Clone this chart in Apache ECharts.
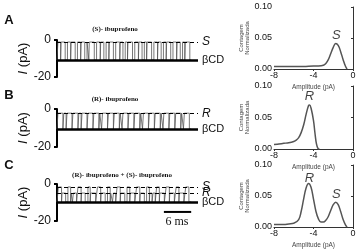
<!DOCTYPE html>
<html>
<head>
<meta charset="utf-8">
<script src="https://cdn.jsdelivr.net/npm/echarts@6/dist/echarts.min.js"></script>
<style>
html,body{margin:0;padding:0;background:#fff;}
#chart{width:360px;height:252px;}
</style>
</head>
<body>
<div id="chart"></div>
<script>
// --- traces (ms, pA) ---
const traceEnd = 29.5;
const openA = [[0.2,0.8],[0.9,1.8],[2.3,3.0],[3.1,4.0],[4.5,5.2],[5.3,6.1],[6.6,7.0],[7.1,8.2],
  [8.7,9.5],[9.6,10.3],[10.8,11.4],[11.5,12.4],[12.9,13.8],[13.9,14.5],[15.0,15.5],[15.6,16.6],
  [17.1,17.9],[18.0,18.7],[19.2,19.7],[19.8,20.8],[21.3,22.1],[22.2,22.9],[23.4,24.0],[24.1,25.0],
  [25.5,26.3],[26.4,27.1],[27.6,28.1],[28.2,29.2]];
const levelA = [-1.1, -10.8];   // aberto, fechado
const openB = [[0.2,1.3],[1.5,2.0],[2.2,3.3],[3.5,4.6],[4.8,5.3],[5.5,6.6],[6.8,7.9],[8.1,9.2],
  [9.4,9.8],[10.0,11.1],[11.3,12.4],[12.6,13.7],[13.9,14.3],[14.5,15.6],[15.8,16.9],[17.1,18.2],
  [18.4,18.8],[19.0,20.1],[20.3,21.4],[21.6,22.7],[22.9,23.3],[23.5,24.6],[24.8,25.9],[26.1,27.2],
  [27.4,27.8],[28.0,29.1]];
const levelB = [-2.2, -10.5];
const openC_S = [[0.3,1.0],[2.4,3.0],[4.6,5.3],[6.8,7.3],[8.9,9.6],[11.1,11.7],[13.2,13.9],[15.4,16.0],
  [17.5,18.2],[19.7,20.3],[21.9,22.5],[24.0,24.7],[26.2,26.8],[28.3,29.0]];
const openC_R = [[1.1,1.9],[3.1,3.4],[3.6,4.3],[5.4,6.2],[7.4,8.5],[9.7,10.6],[11.8,12.2],[12.4,12.9],
  [14.0,14.9],[16.1,17.1],[18.3,19.2],[20.4,20.9],[21.1,21.6],[22.6,23.6],[24.8,25.8],[26.9,27.9]];
const levelC = [-1.6, -4.9, -9.7]; // S, R, fechado
const scaleBar = [23.5, 29.5];     // 6 ms

// --- histogramas ---
const histA_x = [-8,-7,-6,-5,-4,-3.5,-3,-2.75,-2.5,-2.25,-2,-1.75,-1.5,-1.25,-1,-0.75,-0.6];
const histA_y = [0.004,0.004,0.004,0.004,0.005,0.005,0.006,0.009,0.015,0.025,0.035,0.041,0.038,0.028,0.015,0.004,0];
const histB_x = [-8,-7.5,-7,-6.5,-6,-5.75,-5.5,-5.25,-5,-4.75,-4.5,-4.4,-4.25,-4,-3.85,-3.7,-3.55,-3.4];
const histB_y = [0.007,0.008,0.009,0.010,0.012,0.014,0.018,0.026,0.038,0.055,0.069,0.070,0.065,0.045,0.025,0.008,0.001,0];
const histC_x = [-8,-7,-6.5,-6,-5.5,-5.25,-5,-4.75,-4.5,-4.25,-4,-3.75,-3.5,-3.25,-3,-2.75,-2.5,-2.25,-2,-1.75,-1.5,-1.25,-1,-0.75,-0.6];
const histC_y = [0.004,0.004,0.005,0.006,0.012,0.025,0.045,0.063,0.070,0.064,0.045,0.025,0.013,0.008,0.008,0.011,0.017,0.027,0.036,0.040,0.036,0.025,0.012,0.003,0];
const peaksA = [['S', -1.7, 0.055]];
const peaksB = [['R', -4.4, 0.084]];
const peaksC = [['R', -4.4, 0.079], ['S', -1.7, 0.052]];

function stepTrace(events, base){
  // events: [start, end, level]
  const pts = [[0, base]];
  events.sort((a,b)=>a[0]-b[0]).forEach(e=>{
    pts.push([e[0], base],[e[0], e[2]],[e[1], e[2]],[e[1], base]);
  });
  pts.push([traceEnd, base]);
  return pts;
}
const traceA = stepTrace(openA.map(o=>[o[0],o[1],levelA[0]]), levelA[1]);
const traceB = stepTrace(openB.map(o=>[o[0],o[1],levelB[0]]), levelB[1]);
const traceC = stepTrace(openC_S.map(o=>[o[0],o[1],levelC[0]]).concat(openC_R.map(o=>[o[0],o[1],levelC[1]])), levelC[2]);

const chart = echarts.init(document.getElementById('chart'));

const traceGrids = [{left:57,top:40,width:141,height:37},{left:57,top:109,width:141,height:38},{left:57,top:184,width:141,height:37}];
const histGrids = [{left:274,top:7,width:79,height:62},{left:274,top:86,width:79,height:63},{left:274,top:165,width:79,height:62}];

function traceX(i){
  return {gridIndex:i,type:'value',min:0,max:31,show:false};
}
function traceY(i){
  return {
    gridIndex:i,type:'value',min:-20,max:0,interval:20,
    name:'{i|I} (pA)',nameLocation:'middle',nameGap:26,nameRotate:90,
    nameTextStyle:{fontSize:13,color:'#111',fontFamily:'Arial',rich:{i:{fontStyle:'italic',fontSize:13,fontFamily:'Arial',color:'#111'}}},
    axisLine:{show:true,lineStyle:{color:'#000',width:2}},
    axisTick:{show:true,length:3,lineStyle:{color:'#000',width:2}},
    axisLabel:{fontSize:12,color:'#111',margin:6,fontFamily:'Arial'},
    splitLine:{show:false}
  };
}
function histX(i){
  return {
    gridIndex:i+3,type:'value',min:-8,max:0,interval:4,
    name:'Amplitude (pA)',nameLocation:'middle',nameGap:15,
    nameTextStyle:{fontSize:6.5,color:'#444',fontFamily:'Arial'},
    axisLine:{show:true,onZero:false,lineStyle:{color:'#333',width:1}},
    axisTick:{show:true,length:2,lineStyle:{color:'#333'}},
    axisLabel:{fontSize:9,color:'#111',margin:2,fontFamily:'Arial'},
    splitLine:{show:false}
  };
}
function histY(i){
  return {
    gridIndex:i+3,type:'value',min:0,max:0.1,interval:0.05,
    name:'Contagem\nNormalizada',nameLocation:'middle',nameGap:22,nameRotate:90,
    nameTextStyle:{fontSize:6,color:'#444',fontFamily:'Arial',lineHeight:6},
    axisLine:{show:true,lineStyle:{color:'#333',width:1}},
    axisTick:{show:true,length:2,lineStyle:{color:'#333'}},
    axisLabel:{fontSize:9,color:'#111',margin:2,fontFamily:'Arial',formatter:v=>v.toFixed(2)},
    splitLine:{show:false}
  };
}

function levelLine(y, label, dashed, fs){
  return {
    yAxis:y,
    lineStyle:{color:'#000',type:dashed?[4,3]:'solid',width:dashed?1:2.5},
    label:{show:true,position:'end',distance:4,formatter:label,color:'#111',
      fontSize:fs,fontFamily:'Arial',fontStyle:label==='βCD'?'normal':'italic'}
  };
}
function traceSeries(i, data, lines){
  return {
    type:'line',xAxisIndex:i,yAxisIndex:i,data:data,showSymbol:false,silent:true,animation:false,
    lineStyle:{color:'#555',width:0.8},
    markLine:{silent:true,symbol:['none','none'],animation:false,data:lines}
  };
}
function histSeries(i, xs, ys){
  return {
    type:'line',xAxisIndex:i+3,yAxisIndex:i+3,data:xs.map((x,k)=>[x,ys[k]]),
    showSymbol:false,smooth:0.4,silent:true,animation:false,
    lineStyle:{color:'#555',width:1.5}
  };
}
function peakSeries(i, peaks){
  return {
    type:'scatter',xAxisIndex:i+3,yAxisIndex:i+3,symbolSize:0,silent:true,animation:false,
    data:peaks.map(p=>({value:[p[1],p[2]],name:p[0]})),
    label:{show:true,position:'inside',formatter:p=>p.name,fontSize:13,fontStyle:'italic',color:'#111',fontFamily:'Arial'}
  };
}

function txt(x,y,text,font,align){
  return {type:'text',x:x,y:y,silent:true,style:{text:text,font:font,fill:'#111',textAlign:align||'center',textVerticalAlign:'middle'}};
}

chart.setOption({
  animation:false,
  grid:traceGrids.concat(histGrids),
  xAxis:[traceX(0),traceX(1),traceX(2),histX(0),histX(1),histX(2)],
  yAxis:[traceY(0),traceY(1),traceY(2),histY(0),histY(1),histY(2)],
  graphic:[
    txt(9,20,'A','bold 13px Arial'),
    txt(9,95,'B','bold 13px Arial'),
    txt(9,165,'C','bold 13px Arial'),
    txt(115,29,'(S)- ibuprofeno','bold 7px "Liberation Serif"'),
    txt(115,99,'(R)- ibuprofeno','bold 7px "Liberation Serif"'),
    txt(122,175,'(R)- ibuprofeno + (S)- ibuprofeno','bold 7px "Liberation Serif"'),
    txt(177,222,'6 ms','12px "Liberation Serif"')
  ],
  series:[
    traceSeries(0, traceA, [levelLine(levelA[0],'S',true,12), levelLine(levelA[1],'βCD',false,11)]),
    traceSeries(1, traceB, [levelLine(levelB[0],'R',true,12), levelLine(levelB[1],'βCD',false,11)]),
    traceSeries(2, traceC, [levelLine(levelC[0],'S',true,12), levelLine(levelC[1],'R',true,12), levelLine(levelC[2],'βCD',false,11)]),
    {type:'line',xAxisIndex:2,yAxisIndex:2,data:[[scaleBar[0],-15.1],[scaleBar[1],-15.1]],showSymbol:false,silent:true,
      lineStyle:{color:'#000',width:2}},
    histSeries(0, histA_x, histA_y),
    histSeries(1, histB_x, histB_y),
    histSeries(2, histC_x, histC_y),
    peakSeries(0, peaksA),
    peakSeries(1, peaksB),
    peakSeries(2, peaksC)
  ]
});
</script>
</body>
</html>
